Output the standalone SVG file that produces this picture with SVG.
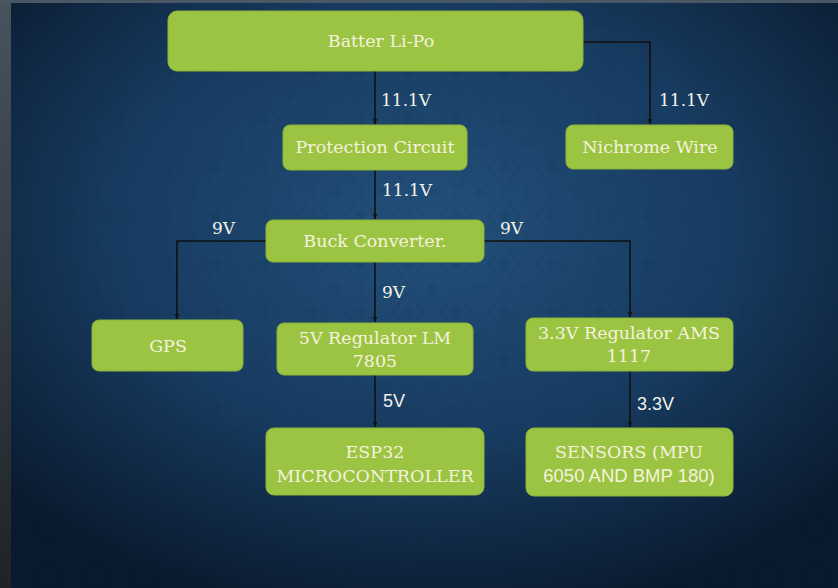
<svg xmlns="http://www.w3.org/2000/svg" width="838" height="588" viewBox="0 0 838 588">
<defs>
<radialGradient id="bg" cx="0.5" cy="0.38" r="0.68">
<stop offset="0" stop-color="#22507a"/>
<stop offset="0.55" stop-color="#173b60"/>
<stop offset="1" stop-color="#0a1a2e"/>
</radialGradient>
<linearGradient id="strip" x1="0" y1="0" x2="0" y2="1">
<stop offset="0" stop-color="#48535e"/>
<stop offset="1" stop-color="#1f2327"/>
</linearGradient>
<pattern id="dam" width="48" height="48" patternUnits="userSpaceOnUse">
<path d="M24 4 L40 24 L24 44 L8 24 Z" fill="none" stroke="#0d2440" stroke-width="2" opacity="0.12"/>
<circle cx="24" cy="24" r="5" fill="#0d2440" opacity="0.1"/>
<circle cx="0" cy="0" r="4" fill="#0d2440" opacity="0.1"/>
<circle cx="48" cy="0" r="4" fill="#0d2440" opacity="0.1"/>
<circle cx="0" cy="48" r="4" fill="#0d2440" opacity="0.1"/>
<circle cx="48" cy="48" r="4" fill="#0d2440" opacity="0.1"/>
</pattern>
<marker id="ah" viewBox="0 0 10 10" refX="9" refY="5" markerWidth="6" markerHeight="6" orient="auto" markerUnits="userSpaceOnUse">
<path d="M0 1 L10 5 L0 9 Z" fill="#111"/>
</marker>
</defs>
<style>
.node rect{fill:#9cc443;stroke:#8bb238;stroke-width:1}
.node text{font-family:"DejaVu Serif","Liberation Serif",serif;font-size:17.5px;fill:#f4f2dc;text-anchor:middle}
.sans{font-family:"Liberation Sans",Arial,sans-serif !important;font-size:18.5px !important}
.lbl{font-family:"DejaVu Serif","Liberation Serif",serif;font-size:17px;fill:#f2f2ea}
.lbls{font-family:"Liberation Sans",Arial,sans-serif;font-size:18px;fill:#f2f2ea}
#connectors path{fill:none;stroke:#111;stroke-width:1.6;marker-end:url(#ah)}
</style>
<rect x="0" y="0" width="838" height="588" fill="#0b1b2f"/>
<rect x="11" y="3" width="827" height="585" fill="url(#bg)"/>
<rect x="11" y="3" width="827" height="585" fill="url(#dam)"/>
<rect x="0" y="0" width="11" height="588" fill="url(#strip)"/>
<rect x="0" y="0" width="838" height="3" fill="#4a5865"/>

<g id="connectors">
<path d="M375 71 V124"/>
<path d="M583 42 H650 V124"/>
<path d="M375 170 V219"/>
<path d="M266 241 H177 V319"/>
<path d="M484 241 H630 V317"/>
<path d="M375 262 V322"/>
<path d="M375 375 V427"/>
<path d="M630 371 V427"/>
</g>

<g id="labels">
<text class="lbl" x="381" y="106">11.1V</text>
<text class="lbl" x="659" y="106">11.1V</text>
<text class="lbl" x="382" y="196">11.1V</text>
<text class="lbl" x="212" y="234">9V</text>
<text class="lbl" x="500" y="234">9V</text>
<text class="lbl" x="382" y="298">9V</text>
<text class="lbls" x="383" y="407">5V</text>
<text class="lbls" x="637" y="410">3.3V</text>
</g>

<g id="battery" class="node"><rect x="168" y="11" width="415" height="60" rx="9"/><text x="381" y="47">Batter Li-Po</text></g>
<g id="protection" class="node"><rect x="283" y="125" width="184" height="45" rx="7"/><text x="375" y="153">Protection Circuit</text></g>
<g id="nichrome" class="node"><rect x="566" y="125" width="167" height="44" rx="7"/><text x="650" y="153">Nichrome Wire</text></g>
<g id="buck" class="node"><rect x="266" y="220" width="218" height="42" rx="7"/><text x="375" y="247">Buck Converter.</text></g>
<g id="gps" class="node"><rect x="92" y="320" width="151" height="51" rx="7"/><text x="168" y="352">GPS</text></g>
<g id="reg5" class="node"><rect x="277" y="323" width="196" height="52" rx="7"/><text x="375" y="344">5V Regulator LM</text><text x="375" y="367">7805</text></g>
<g id="reg33" class="node"><rect x="526" y="318" width="207" height="53" rx="7"/><text x="629" y="339">3.3V Regulator AMS</text><text x="629" y="362">1117</text></g>
<g id="esp32" class="node"><rect x="266" y="428" width="218" height="67" rx="8"/><text x="375" y="458">ESP32</text><text x="375" y="482">MICROCONTROLLER</text></g>
<g id="sensors" class="node"><rect x="526" y="428" width="207" height="68" rx="8"/><text x="629" y="458">SENSORS (MPU</text><text class="sans" x="629" y="482">6050 AND BMP 180)</text></g>
</svg>
